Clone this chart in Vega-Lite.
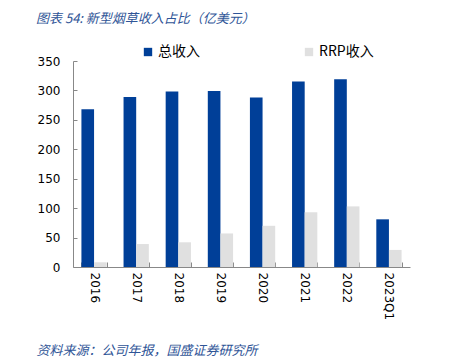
{
  "$schema": "https://vega.github.io/schema/vega-lite/v6.json",
  "width": 337,
  "height": 206,
  "autosize": {"type": "none"},
  "padding": {"left": 73, "top": 61, "right": 56, "bottom": 96},
  "title": {
    "text": "图表 54:  新型烟草收入占比（亿美元）",
    "anchor": "start",
    "frame": "group",
    "dx": -37,
    "offset": 19,
    "font": "Noto Sans CJK SC",
    "fontSize": 13,
    "fontStyle": "italic",
    "fontWeight": "normal",
    "color": "#2F5597"
  },
  "data": {
    "values": [
      {"year": "2016", "type": "总收入", "value": 268},
      {"year": "2016", "type": "RRP收入", "value": 8},
      {"year": "2017", "type": "总收入", "value": 289},
      {"year": "2017", "type": "RRP收入", "value": 39},
      {"year": "2018", "type": "总收入", "value": 298},
      {"year": "2018", "type": "RRP收入", "value": 42},
      {"year": "2019", "type": "总收入", "value": 299},
      {"year": "2019", "type": "RRP收入", "value": 57},
      {"year": "2020", "type": "总收入", "value": 288},
      {"year": "2020", "type": "RRP收入", "value": 70},
      {"year": "2021", "type": "总收入", "value": 315},
      {"year": "2021", "type": "RRP收入", "value": 93},
      {"year": "2022", "type": "总收入", "value": 319},
      {"year": "2022", "type": "RRP收入", "value": 103},
      {"year": "2023Q1", "type": "总收入", "value": 81},
      {"year": "2023Q1", "type": "RRP收入", "value": 29}
    ]
  },
  "mark": {"type": "bar"},
  "encoding": {
    "x": {
      "field": "year",
      "type": "nominal",
      "sort": null,
      "scale": {"paddingInner": 0.4, "paddingOuter": 0.2},
      "axis": {
        "title": "资料来源：公司年报，国盛证券研究所",
        "titleAnchor": "start",
        "titleAlign": "left",
        "titleX": -37,
        "titleY": 87,
        "titleBaseline": "alphabetic",
        "titleFont": "Noto Sans CJK SC",
        "titleFontSize": 13,
        "titleFontStyle": "italic",
        "titleFontWeight": "normal",
        "titleColor": "#2F5597",
        "labelAngle": 90,
        "labelFont": "DejaVu Sans",
        "labelFontSize": 12,
        "labelColor": "#000000",
        "labelPadding": 10,
        "tickBand": "extent",
        "tickSize": -5,
        "tickColor": "#888888",
        "domainColor": "#888888"
      }
    },
    "xOffset": {
      "field": "type",
      "type": "nominal",
      "scale": {"domain": ["总收入", "RRP收入"]}
    },
    "y": {
      "field": "value",
      "type": "quantitative",
      "scale": {"domain": [0, 350], "nice": false},
      "axis": {
        "title": null,
        "values": [0, 50, 100, 150, 200, 250, 300, 350],
        "grid": false,
        "labelFont": "DejaVu Sans",
        "labelFontSize": 12,
        "labelColor": "#000000",
        "labelPadding": 17,
        "tickSize": -4,
        "tickColor": "#888888",
        "domainColor": "#888888"
      }
    },
    "color": {
      "field": "type",
      "type": "nominal",
      "scale": {"domain": ["总收入", "RRP收入"], "range": ["#003F98", "#E0E0E0"]},
      "legend": {
        "title": null,
        "orient": "none",
        "legendX": 68,
        "legendY": -16,
        "direction": "horizontal",
        "symbolType": "square",
        "symbolSize": 70,
        "symbolStrokeWidth": 0,
        "labelFont": "Noto Sans CJK SC",
        "labelFontSize": 14,
        "labelColor": "#000000",
        "labelOffset": 3,
        "columnPadding": 102
      }
    }
  },
  "config": {
    "view": {"stroke": null},
    "background": "#ffffff"
  }
}
